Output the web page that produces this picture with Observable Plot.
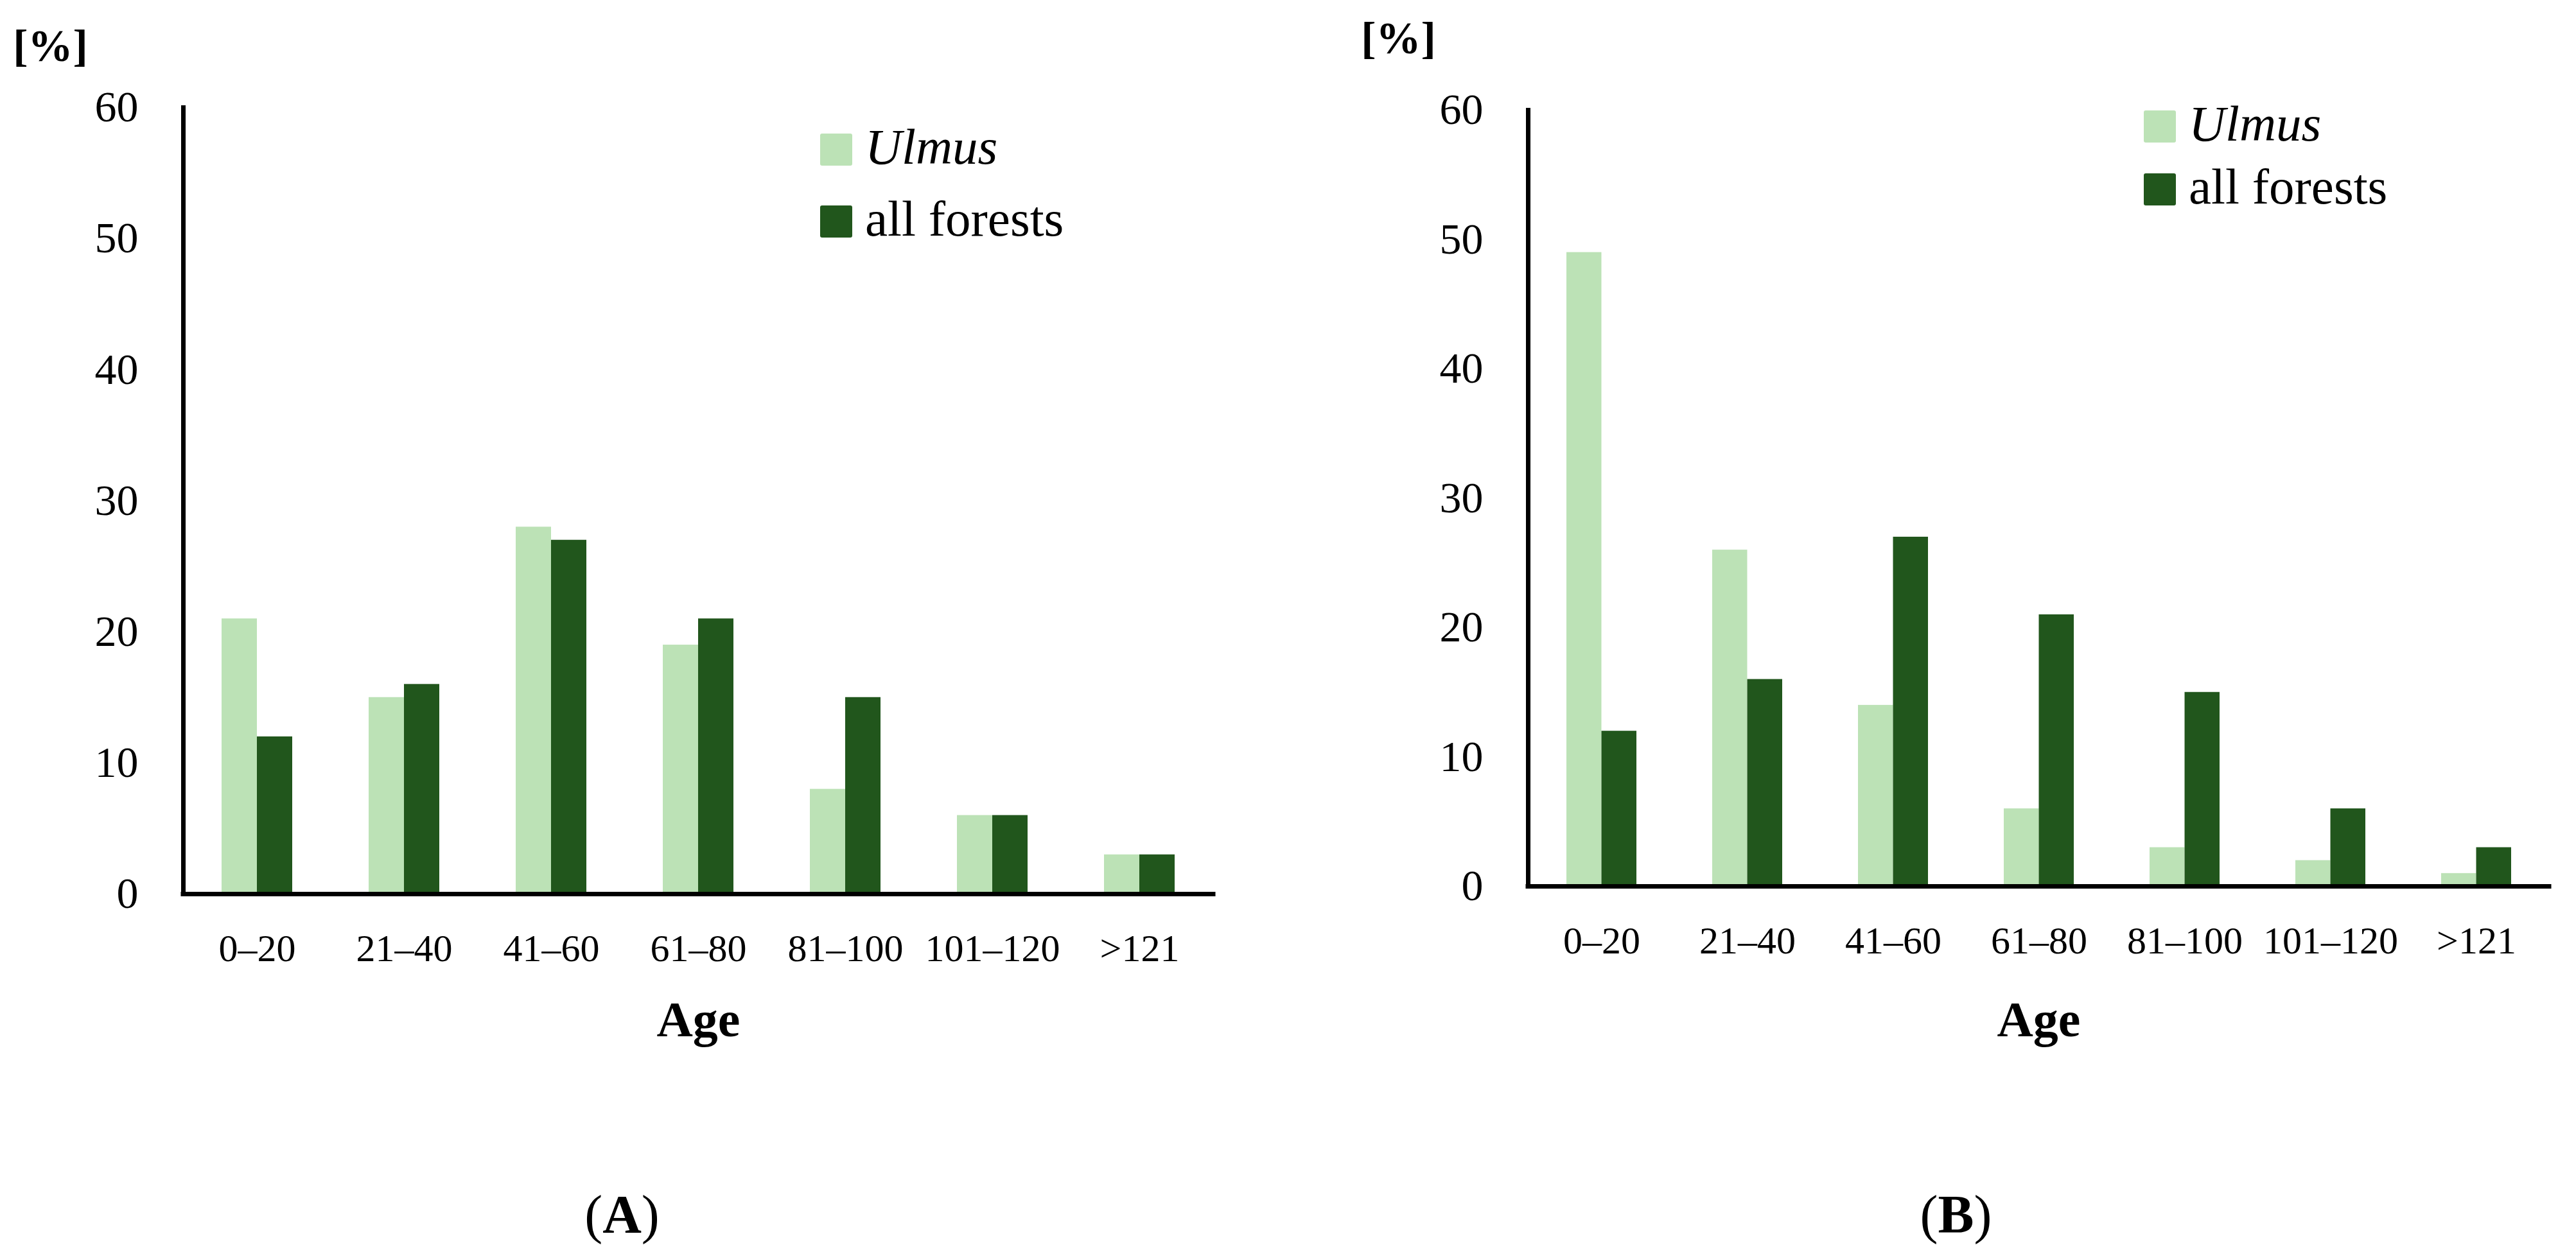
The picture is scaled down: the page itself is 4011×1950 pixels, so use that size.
<!DOCTYPE html>
<html><head><meta charset="utf-8">
<script src="https://cdn.jsdelivr.net/npm/d3@7"></script>
<script src="https://cdn.jsdelivr.net/npm/@observablehq/plot@0.6"></script>
<style>
html,body{margin:0;padding:0;background:#fff;}
body{width:4011px;height:1950px;position:relative;overflow:hidden;font-family:"Liberation Serif",serif;color:#000;}
.abs{position:absolute;}
.sw{position:absolute;width:50px;height:50px;border-radius:3px;}
.lt{position:absolute;font-size:79px;line-height:79px;white-space:nowrap;}
</style></head><body>
<div id="A" class="abs" style="left:0px;top:0px"></div>
<div id="B" class="abs" style="left:2005px;top:0px"></div>
<div id="legA"></div>
<div id="legB"></div>
<script>
const ageClasses = ["0–20", "21–40", "41–60", "61–80", "81–100", "101–120", ">121"];
const seriesNames = ["Ulmus", "all forests"];
const ulmusA = [21, 15, 28, 19, 8, 6, 3];
const forestsA = [12, 16, 27, 21, 15, 6, 3];
const ulmusB = [49, 26, 14, 6, 3, 2, 1];
const forestsB = [12, 16, 27, 21, 15, 6, 3];
const yTicks = [0, 10, 20, 30, 40, 50, 60];
const seriesColors = ["#bce2b6", "#21561c"];
const panelLabels = ["(A)", "(B)"];
const yUnit = "[%]";
const xTitle = "Age";

const FONT = "Liberation Serif, serif";

function panel(ulmus, forests, cfg) {
  const rows = [];
  ageClasses.forEach((c, i) => {
    rows.push({age: c, series: seriesNames[0], value: ulmus[i]});
    rows.push({age: c, series: seriesNames[1], value: forests[i]});
  });
  const padIn = 0.52;
  const step = (cfg.width - cfg.marginLeft - cfg.marginRight) / ageClasses.length;
  const bw = step * (1 - padIn);
  return Plot.plot({
    width: cfg.width,
    height: cfg.height,
    marginLeft: cfg.marginLeft,
    marginRight: cfg.marginRight,
    marginTop: cfg.marginTop,
    marginBottom: cfg.marginBottom,
    style: {fontFamily: FONT, background: "white", color: "black", overflow: "visible"},
    x: {domain: ageClasses, paddingInner: padIn, paddingOuter: padIn / 2},
    y: {domain: [0, 60]},
    color: {domain: seriesNames, range: seriesColors},
    marks: [
      Plot.barY(rows.filter(d => d.series === seriesNames[0]), {x: "age", y: "value", fill: "series", insetRight: bw / 2}),
      Plot.barY(rows.filter(d => d.series === seriesNames[1]), {x: "age", y: "value", fill: "series", insetLeft: bw / 2}),
      Plot.axisY({ticks: yTicks, tickSize: 0, tickPadding: 70, fontSize: 68, label: null, fill: "black"}),
      Plot.axisX({tickSize: 0, tickPadding: 62, fontSize: 60, label: null, fill: "black"}),
      Plot.frame({anchor: "left", stroke: "black", strokeWidth: 7}),
      Plot.ruleY([0], {stroke: "black", strokeWidth: 7, strokeLinecap: "square"}),
      Plot.text([xTitle], {frameAnchor: "bottom", dy: cfg.ageDy, fontSize: 78, fontWeight: "bold", fill: "black"}),
      Plot.text([yUnit], {frameAnchor: "top-left", textAnchor: "middle", lineAnchor: "middle",
        dx: cfg.unitDx, dy: cfg.unitDy, fontSize: 70, fontWeight: "bold", fill: "black"}),
      Plot.text([cfg.label], {frameAnchor: "bottom-left", textAnchor: "middle", lineAnchor: "middle",
        dx: cfg.labelDx, dy: cfg.labelDy, fontSize: 84, fill: "black"})
    ]
  });
}

const svgA = panel(ulmusA, forestsA, {
  width: 2000, height: 1950, marginLeft: 285, marginRight: 111, marginTop: 167, marginBottom: 558,
  ageDy: 221, unitDx: -207, unitDy: -95, label: panelLabels[0], labelDx: 683, labelDy: 501
});
const svgB = panel(ulmusB, forestsB, {
  width: 2006, height: 1950, marginLeft: 374, marginRight: 42, marginTop: 171, marginBottom: 570,
  ageDy: 233, unitDx: -202, unitDy: -111, label: panelLabels[1], labelDx: 666, labelDy: 513
});
document.getElementById("A").appendChild(svgA);
document.getElementById("B").appendChild(svgB);

// "(" and ")" regular, letter bold
for (const svg of [svgA, svgB]) {
  svg.querySelectorAll("text").forEach(t => {
    const s = t.textContent;
    if (panelLabels.includes(s)) {
      t.textContent = "";
      ["(", s.slice(1, -1), ")"].forEach((p, k) => {
        const ts = document.createElementNS("http://www.w3.org/2000/svg", "tspan");
        ts.textContent = p;
        if (k === 1) ts.setAttribute("font-weight", "bold");
        t.appendChild(ts);
      });
    }
  });
}

function legend(id, left, tops, textLeft) {
  const host = document.getElementById(id);
  seriesNames.forEach((name, i) => {
    const sw = document.createElement("div");
    sw.className = "sw";
    sw.style.left = left + "px";
    sw.style.top = tops[i] + "px";
    sw.style.background = seriesColors[i];
    host.appendChild(sw);
    const tx = document.createElement("div");
    tx.className = "lt";
    tx.style.left = textLeft + "px";
    tx.style.top = (tops[i] + 25 - 40 - 4) + "px";
    if (i === 0) tx.style.fontStyle = "italic";
    tx.textContent = name;
    host.appendChild(tx);
  });
}
legend("legA", 1277, [208, 320], 1347);
legend("legB", 3338, [172, 270], 3408);
</script>
</body></html>
